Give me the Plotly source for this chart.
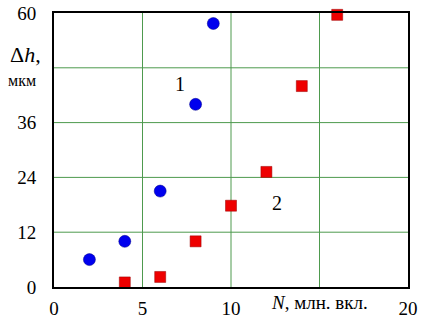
import plotly.graph_objects as go

n1 = [2, 4, 6, 8, 9]
dh1 = [6, 10, 21, 40, 57.7]
n2 = [4, 6, 8, 10, 12, 14, 16]
dh2 = [1, 2.2, 10, 17.8, 25.2, 44, 59.6]
x_ticks = [0, 5, 10, 20]
y_ticks = [0, 12, 24, 36, 60]

FAM = "Liberation Serif"

fig = go.Figure()
fig.add_trace(go.Scatter(x=n1, y=dh1, mode="markers",
                         marker=dict(symbol="circle", size=12, color="#0000ee",
                                     line=dict(color="#000088", width=0.5)),
                         cliponaxis=False, showlegend=False))
fig.add_trace(go.Scatter(x=n2, y=dh2, mode="markers",
                         marker=dict(symbol="square", size=11, color="#ee0000",
                                     line=dict(color="#990000", width=0.5)),
                         cliponaxis=False, showlegend=False))

font = dict(family=FAM, size=19, color="black")
fig.update_layout(
    width=421, height=319,
    margin=dict(l=54, r=13, t=13, b=32, autoexpand=False),
    plot_bgcolor="white", paper_bgcolor="white",
    font=font,
    xaxis=dict(range=[0, 20], tickvals=x_ticks, showgrid=False, automargin=False,
               showline=True, linecolor="black", linewidth=2, mirror=True,
               zeroline=False, ticks="", tickfont=font, ticklabelstandoff=3),
    yaxis=dict(range=[0, 60], tickvals=y_ticks, showgrid=False, automargin=False,
               showline=True, linecolor="black", linewidth=2, mirror=True,
               zeroline=False, ticks="", tickfont=font, ticklabelstandoff=12),
    annotations=[
        dict(x=7.1, y=44.5, text="1", showarrow=False, font=dict(family=FAM, size=20, color="black")),
        dict(x=12.6, y=18.5, text="2", showarrow=False, font=dict(family=FAM, size=20, color="black")),
        dict(xref="paper", yref="y", x=-0.03, y=51, text="Δ<i>h</i>,",
             showarrow=False, xanchor="right", font=dict(family=FAM, size=22, color="black")),
        dict(xref="paper", yref="y", x=-0.045, y=45.3, text="мкм",
             showarrow=False, xanchor="right", font=dict(family=FAM, size=16, color="black")),
        dict(x=15, xref="x", yref="paper", y=-0.01, yanchor="top",
             text="<i>N</i>, млн. вкл.", showarrow=False, font=font),
    ],
)
for gx in [5, 10, 15]:
    fig.add_shape(type="line", x0=gx, x1=gx, y0=0, y1=60, xref="x", yref="y",
                  line=dict(color="#4e9a4e", width=1), layer="below")
for gy in [12, 24, 36, 48]:
    fig.add_shape(type="line", x0=0, x1=20, y0=gy, y1=gy, xref="x", yref="y",
                  line=dict(color="#4e9a4e", width=1), layer="below")

fig.write_html("out.html", config={"displayModeBar": False},
               post_script="document.body.style.margin='0';")
